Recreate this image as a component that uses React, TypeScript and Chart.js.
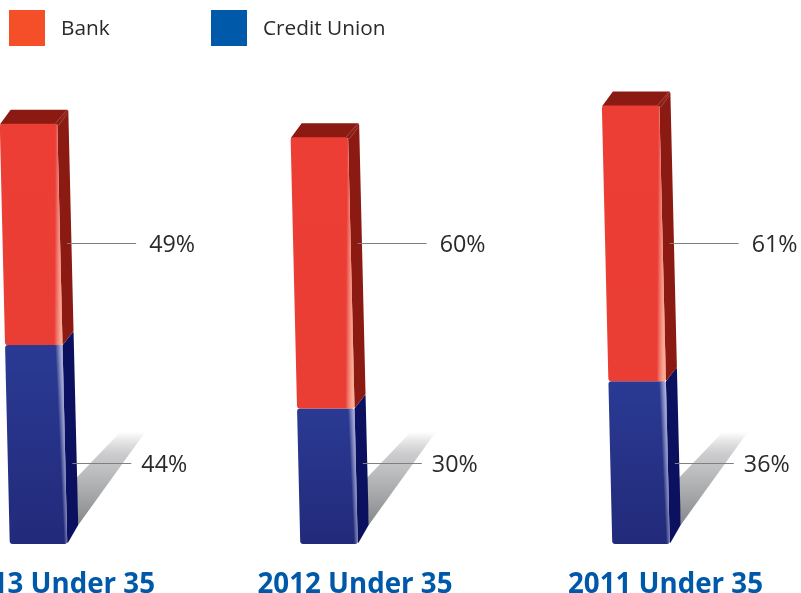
import React, { useEffect, useRef } from "react";
import { Chart, registerables, CategoryScale } from "chart.js";

const categories = ["2013 Under 35", "2012 Under 35", "2011 Under 35"];
const bankValues = [49, 60, 61];
const creditUnionValues = [44, 30, 36];
const legendOrder = ["Bank", "Credit Union"];
const yMax = 100;

const FONT = '"Open Sans", sans-serif';
const BLUE_TITLE = "#0059A8";
const TEXT = "#2A2A2A";
const SLANT = 0.0237;
const barOffsets = [0, -10.75, 0];
const tickOffsets = [19, 26, 24.5];
const leaderLevels: Record<string, number> = { "Credit Union": 18, Bank: 66.6 };
const leaderLength: Record<string, number> = { "Credit Union": 59, Bank: 69 };
const leaderGap: Record<string, number> = { "Credit Union": 10, Bank: 13 };
const legendSwatches: Record<string, string> = { Bank: "#F54F29", "Credit Union": "#005AA9" };
const legendX: Record<string, number> = { Bank: 9, "Credit Union": 211 };

const faces: Record<string, any> = {
  Bank: { top: "#EC3E35", bottom: "#EA3D33", side: "#8B1A12", light: "rgba(255,200,170,0.8)", rimSlope: -0.006 },
  "Credit Union": { top: "#2A3A93", bottom: "#222A7A", side: "#0C115F", light: "rgba(200,205,240,0.9)", rimSlope: 0.045 },
};

class NudgedCategoryScale extends CategoryScale {
  static id = "nudgedCategory";
  static defaults = CategoryScale.defaults;
  getPixelForValue(value: any) {
    const px = super.getPixelForValue(value);
    const idx = Math.round(typeof value === "number" ? value : (this.parse(value) as number));
    return px + (barOffsets[idx] || 0);
  }
  getPixelForTick(index: number) {
    return super.getPixelForTick(index) + (tickOffsets[index] || 0);
  }
}

function poly(ctx: CanvasRenderingContext2D, pts: number[][], r = 0) {
  ctx.beginPath();
  const n = pts.length;
  if (!r) {
    pts.forEach((p, i) => (i ? ctx.lineTo(p[0], p[1]) : ctx.moveTo(p[0], p[1])));
  } else {
    const s = pts[n - 1], f = pts[0];
    ctx.moveTo((s[0] + f[0]) / 2, (s[1] + f[1]) / 2);
    for (let i = 0; i < n; i++) {
      const a = pts[i], b = pts[(i + 1) % n];
      ctx.arcTo(a[0], a[1], (a[0] + b[0]) / 2, (a[1] + b[1]) / 2, r);
    }
  }
  ctx.closePath();
}

const slantedBars = {
  id: "slantedBars",
  beforeDatasetDraw() {
    return false;
  },
  beforeDatasetsDraw(chart: any) {
    const { ctx } = chart;
    const y0 = chart.scales.y.getPixelForValue(0);
    const metas = chart.data.datasets.map((_: any, i: number) => chart.getDatasetMeta(i));
    const edge = (x: number, y: number) => x - (y0 - y) * SLANT;

    ctx.save();
    // cast shadows
    metas[0].data.forEach((bar: any) => {
      const r = bar.x + bar.width / 2;
      const g = ctx.createLinearGradient(0, y0 - 112, 0, y0 - 22);
      g.addColorStop(0, "rgba(150,151,154,0)");
      g.addColorStop(0.25, "rgba(175,176,178,0.65)");
      g.addColorStop(1, "#88898C");
      ctx.fillStyle = g;
      poly(ctx, [[r + 9, y0 - 66], [r + 53, y0 - 112], [r + 78, y0 - 112], [r + 11, y0 - 19]]);
      ctx.fill();
    });

    metas.forEach((meta: any, d: number) => {
      const name = chart.data.datasets[d].label;
      const c = faces[name];
      meta.data.forEach((bar: any) => {
        const hw = bar.width / 2;
        const top = bar.y, bot = bar.base;
        const ltop = edge(bar.x - hw, top), rtop = edge(bar.x + hw, top);
        const lbot = edge(bar.x - hw, bot), rbot = edge(bar.x + hw, bot);
        const isBase = d === 0;
        const backBotY = isBase ? bot - 19 : bot - 14;
        // side face
        ctx.fillStyle = c.side;
        poly(ctx, [[rtop, top], [rtop + 11, top - 14], [rbot + 11, backBotY], [rbot, bot]], 0.5);
        ctx.fill();
        // top face of the stack
        if (d === metas.length - 1) {
          ctx.fillStyle = c.side;
          poly(ctx, [[ltop, top + 1], [ltop + 11, top - 14], [rtop + 11, top - 14], [rtop, top + 1]], 0.5);
          ctx.fill();
          ctx.strokeStyle = "rgba(255,255,255,0.3)";
          ctx.lineWidth = 0.7;
          ctx.beginPath();
          ctx.moveTo(rtop - 2, top);
          ctx.lineTo(rtop + 9, top - 13);
          ctx.moveTo(rtop + 1, top + 2);
          ctx.lineTo(rtop + 10, top - 10);
          ctx.stroke();
        }
        // front face
        const vg = ctx.createLinearGradient(0, top, 0, bot);
        vg.addColorStop(0, c.top);
        vg.addColorStop(1, c.bottom);
        ctx.fillStyle = vg;
        poly(ctx, [[ltop, top], [rtop, top], [rbot, bot], [lbot, bot]], 3);
        ctx.fill();
        // soft highlight along the right-hand rim
        const midY = (top + bot) / 2;
        const midR = edge(bar.x + hw, midY);
        const k = c.rimSlope;
        const hg = ctx.createLinearGradient(midR - 11, midY + 11 * k, midR + 2, midY - 2 * k);
        hg.addColorStop(0, "rgba(255,255,255,0)");
        hg.addColorStop(0.45, "rgba(255,255,255,0)");
        hg.addColorStop(1, c.light);
        ctx.fillStyle = hg;
        ctx.fill();
      });
    });
    ctx.restore();
  },
  afterDatasetsDraw(chart: any) {
    const { ctx, scales } = chart;
    const y0 = scales.y.getPixelForValue(0);
    ctx.save();
    chart.data.datasets.forEach((ds: any, d: number) => {
      const meta = chart.getDatasetMeta(d);
      const ly = Math.round(scales.y.getPixelForValue(leaderLevels[ds.label])) + 0.5;
      meta.data.forEach((bar: any, i: number) => {
        const back = bar.x + bar.width / 2 - (y0 - ly) * SLANT + 11;
        const start = back - 4;
        const end = start + leaderLength[ds.label];
        ctx.strokeStyle = "#808080";
        ctx.lineWidth = 1;
        ctx.beginPath();
        ctx.moveTo(start, ly);
        ctx.lineTo(end, ly);
        ctx.stroke();
        ctx.fillStyle = TEXT;
        ctx.font = `23.3px ${FONT}`;
        ctx.textAlign = "left";
        ctx.textBaseline = "middle";
        ctx.fillText(`${ds.data[i]}%`, end + leaderGap[ds.label], ly + 2);
      });
    });
    // legend
    legendOrder.forEach((name) => {
      const x = legendX[name];
      ctx.fillStyle = legendSwatches[name];
      ctx.fillRect(x, 10, 36, 36);
      ctx.fillStyle = TEXT;
      ctx.font = `20.8px ${FONT}`;
      ctx.textAlign = "left";
      ctx.textBaseline = "middle";
      ctx.fillText(name, x + 52, 29);
    });
    ctx.restore();
  },
};

Chart.register(...registerables, NudgedCategoryScale);

export default function App() {
  const ref = useRef<HTMLCanvasElement>(null);
  useEffect(() => {
    document.body.style.margin = "0";
    document.body.style.overflow = "hidden";
    const chart = new Chart(ref.current!, {
      type: "bar",
      data: {
        labels: categories,
        datasets: [
          { label: "Credit Union", data: creditUnionValues, backgroundColor: "#2A3A93", barThickness: 57.5 },
          { label: "Bank", data: bankValues, backgroundColor: "#EC3E35", barThickness: 57.5 },
        ],
      },
      options: {
        responsive: false,
        animation: false,
        devicePixelRatio: 1,
        layout: { padding: { left: 38.5, right: 160, top: 92, bottom: 0 } },
        plugins: { legend: { display: false }, tooltip: { enabled: false } },
        scales: {
          x: {
            type: "nudgedCategory" as any,
            stacked: true,
            offset: false,
            grid: { display: false },
            border: { display: false },
            ticks: {
              autoSkip: false,
              maxRotation: 0,
              minRotation: 0,
              padding: 16,
              color: BLUE_TITLE,
              font: { family: FONT, size: 27.7, weight: "bold" },
            },
            afterFit(scale: any) {
              scale.paddingLeft = 0;
              scale.paddingRight = 0;
              scale.height = 49;
            },
          },
          y: { stacked: true, display: false, min: 0, max: yMax },
        },
      },
      plugins: [slantedBars],
    } as any);
    return () => chart.destroy();
  }, []);
  return (
    <div style={{ width: 801, height: 593, overflow: "hidden" }}>
      <canvas ref={ref} width={801} height={593} style={{ display: "block" }} />
    </div>
  );
}
